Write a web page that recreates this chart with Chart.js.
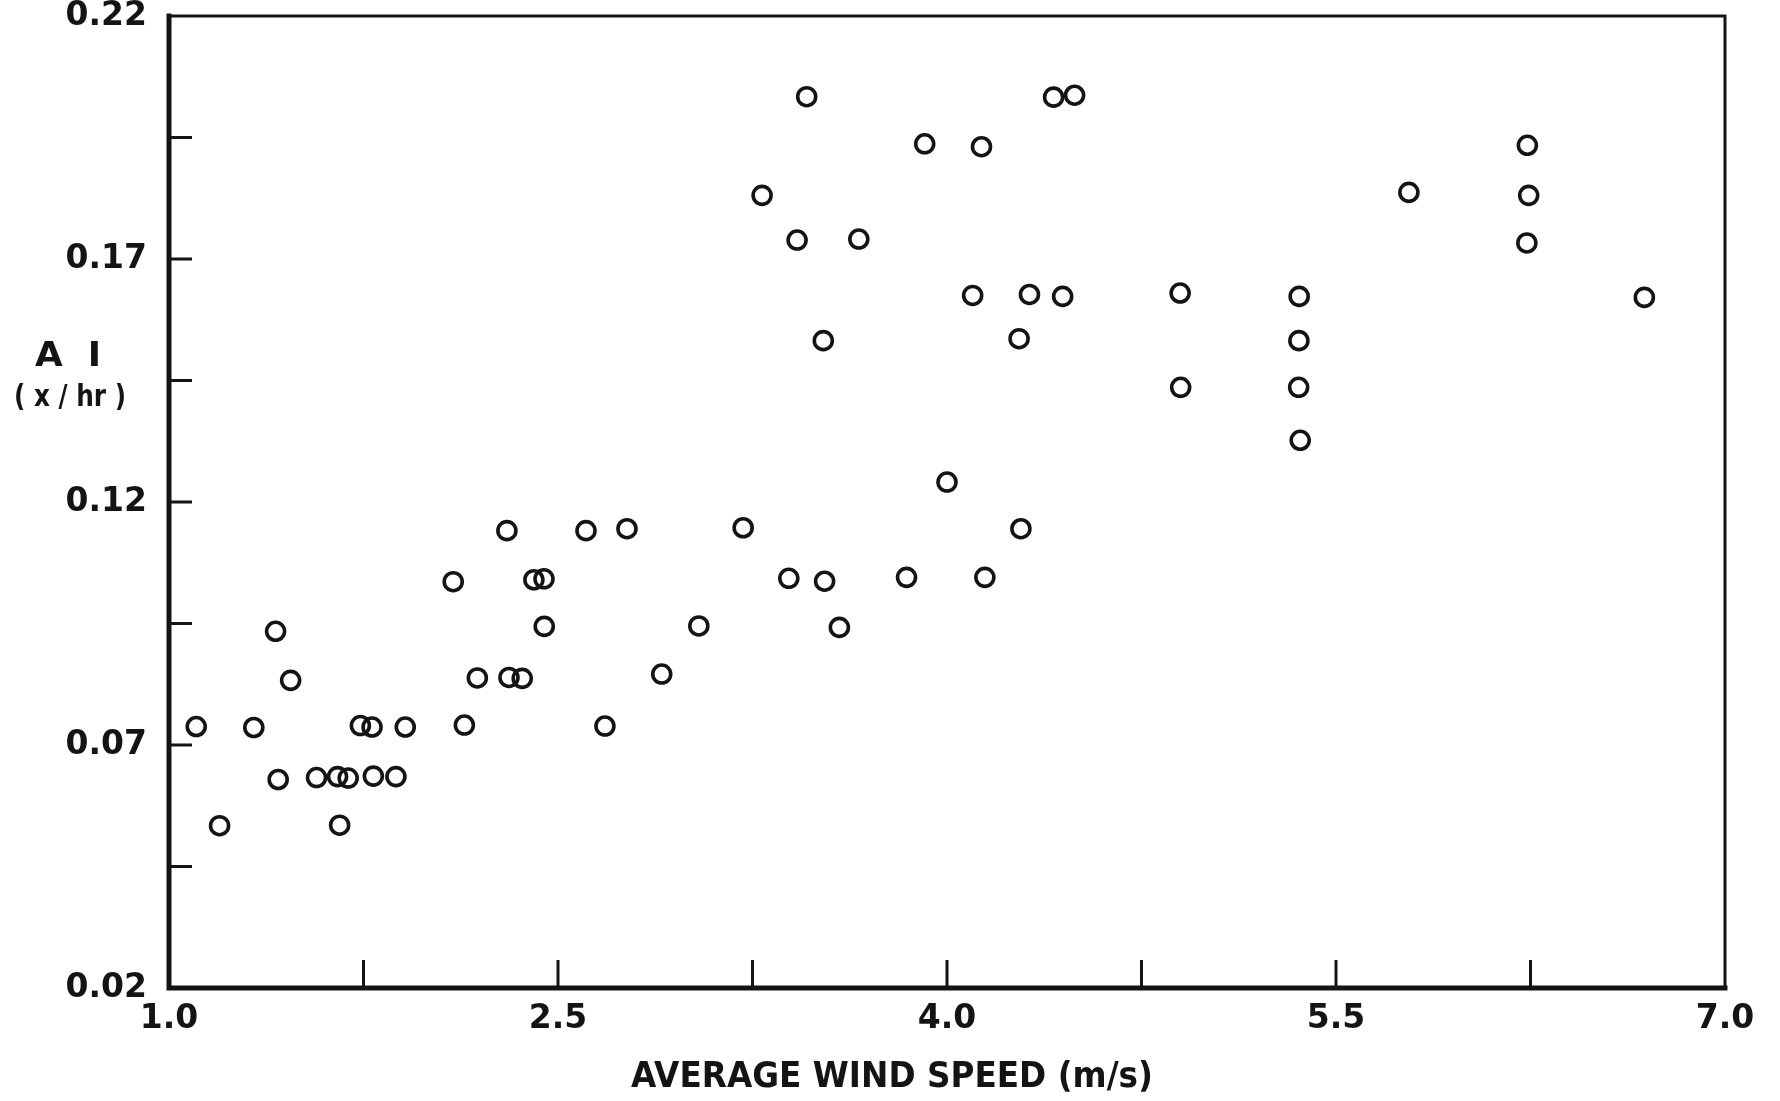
<!DOCTYPE html>
<html>
<head>
<meta charset="utf-8">
<title>AI vs average wind speed</title>
<script src="https://cdn.jsdelivr.net/npm/chart.js@4.4.1/dist/chart.umd.min.js"></script>
<style>
  html, body { margin: 0; padding: 0; background: #fff; }
  #wrap { width: 1780px; height: 1101px; }
</style>
</head>
<body>
<div id="wrap"><canvas id="chart" width="1780" height="1101"></canvas></div>
<script>
// Average wind speed (m/s)
const windSpeed = [1.105, 1.195, 1.327, 1.411, 1.469, 1.421, 1.569, 1.650, 1.691, 1.788,
    1.875, 1.658, 1.738, 1.783, 1.911, 2.139, 2.189, 2.311, 2.362, 2.096,
    2.407, 2.446, 2.447, 2.303, 2.608, 2.766, 2.900, 2.681, 3.043, 3.214,
    3.390, 3.528, 3.585, 4.000, 4.285, 3.844, 4.146, 3.459, 4.411, 4.492,
    3.914, 4.133, 3.287, 3.422, 3.660, 4.099, 4.318, 4.446, 4.899, 3.523,
    4.278, 4.901, 6.238, 5.781, 6.243, 6.236, 5.358, 6.689, 5.357, 5.356,
    5.362];

// AI (x/hr), same order as windSpeed
const airInfiltration = [0.0738, 0.0534, 0.0736, 0.0934, 0.0833, 0.0629, 0.0633, 0.0635, 0.0632, 0.0636,
    0.0635, 0.0535, 0.0740, 0.0737, 0.0737, 0.0741, 0.0838, 0.0839, 0.0837, 0.1036,
    0.1040, 0.1042, 0.0944, 0.1141, 0.1141, 0.1145, 0.0846, 0.0739, 0.0945, 0.1147,
    0.1043, 0.1037, 0.0942, 0.1241, 0.1145, 0.1045, 0.1045, 0.2034, 0.2033, 0.2037,
    0.1937, 0.1931, 0.1831, 0.1739, 0.1741, 0.1625, 0.1627, 0.1623, 0.1630, 0.1532,
    0.1536, 0.1436, 0.1934, 0.1837, 0.1831, 0.1733, 0.1623, 0.1621, 0.1532, 0.1436,
    0.1327];

// Tick positions and their labels ('' = unlabelled tick)
const xTickValues = [1.0, 1.75, 2.5, 3.25, 4.0, 4.75, 5.5, 6.25, 7.0];
const xTickLabels = ['1.0', '', '2.5', '', '4.0', '', '5.5', '', '7.0'];
const yTickValues = [0.02, 0.045, 0.07, 0.095, 0.12, 0.145, 0.17, 0.195, 0.22];
const yTickLabels = ['0.02', '', '0.07', '', '0.12', '', '0.17', '', '0.22'];

const INK = '#141414';
const FONT = '"DejaVu Sans", "Liberation Sans", sans-serif';

function labelFor(values, labels, value) {
    const i = values.findIndex(v => Math.abs(v - value) < 1e-9);
    return i >= 0 ? labels[i] : '';
}

// fit a string into a given width by squeezing it horizontally
function drawFitted(ctx, text, cx, cy, targetWidth) {
    const w = ctx.measureText(text).width;
    const sx = Math.min(1.4, targetWidth / w);
    ctx.save();
    ctx.translate(cx, cy);
    ctx.scale(sx, 1);
    ctx.fillText(text, 0, 0);
    ctx.restore();
}

// frame, inward tick marks and the hand lettered axis titles
const framePlugin = {
    id: 'frame',
    afterDraw(chart) {
        const { ctx, chartArea: a, scales } = chart;
        ctx.save();
        ctx.strokeStyle = INK;
        ctx.lineCap = 'square';

        ctx.lineWidth = 3;
        ctx.beginPath();
        ctx.moveTo(a.left, a.top);
        ctx.lineTo(a.right, a.top);
        ctx.lineTo(a.right, a.bottom);
        ctx.stroke();

        ctx.lineWidth = 5;
        ctx.beginPath();
        ctx.moveTo(a.left, a.top);
        ctx.lineTo(a.left, a.bottom);
        ctx.lineTo(a.right, a.bottom);
        ctx.stroke();

        ctx.lineWidth = 3;
        ctx.lineCap = 'butt';
        xTickValues.slice(1, -1).forEach(v => {
            const px = scales.x.getPixelForValue(v);
            ctx.beginPath();
            ctx.moveTo(px, a.bottom);
            ctx.lineTo(px, a.bottom - 28);
            ctx.stroke();
        });
        yTickValues.slice(1, -1).forEach(v => {
            const py = scales.y.getPixelForValue(v);
            ctx.beginPath();
            ctx.moveTo(a.left, py);
            ctx.lineTo(a.left + 23, py);
            ctx.stroke();
        });

        ctx.fillStyle = INK;
        ctx.textAlign = 'center';
        ctx.textBaseline = 'middle';
        ctx.font = 'bold 36px ' + FONT;
        drawFitted(ctx, 'AVERAGE WIND SPEED (m/s)', 892, 1078, 522);
        ctx.font = 'bold 34px ' + FONT;
        drawFitted(ctx, 'A  I', 68, 357, 66);
        ctx.font = 'bold 30px ' + FONT;
        drawFitted(ctx, '( x / hr )', 70, 398, 112);
        ctx.restore();
    }
};

new Chart(document.getElementById('chart'), {
    type: 'scatter',
    data: {
        datasets: [{
            label: 'AI',
            data: windSpeed.map((x, i) => ({ x: x, y: airInfiltration[i] })),
            pointStyle: 'circle',
            pointRadius: 9,
            pointHoverRadius: 9,
            pointBorderWidth: 3.6,
            borderColor: INK,
            backgroundColor: 'rgba(0,0,0,0)'
        }]
    },
    options: {
        responsive: false,
        animation: false,
        layout: { padding: { left: 0, right: 55, top: 16, bottom: 0 } },
        plugins: {
            legend: { display: false },
            tooltip: { enabled: false }
        },
        scales: {
            x: {
                type: 'linear',
                min: 1.0,
                max: 7.0,
                grid: { display: false },
                border: { display: false },
                afterBuildTicks: s => { s.ticks = xTickValues.map(v => ({ value: v })); },
                afterFit: s => { s.height = 113; s.paddingLeft = 0; s.paddingRight = 0; },
                ticks: {
                    autoSkip: false,
                    maxRotation: 0,
                    padding: 4,
                    color: INK,
                    font: { family: FONT, size: 33, weight: 'bold' },
                    callback: v => labelFor(xTickValues, xTickLabels, v)
                }
            },
            y: {
                type: 'linear',
                min: 0.02,
                max: 0.22,
                grid: { display: false },
                border: { display: false },
                afterBuildTicks: s => { s.ticks = yTickValues.map(v => ({ value: v })); },
                afterFit: s => { s.width = 169; s.paddingTop = 0; s.paddingBottom = 0; },
                ticks: {
                    autoSkip: false,
                    padding: 14,
                    color: INK,
                    font: { family: FONT, size: 33, weight: 'bold' },
                    callback: v => labelFor(yTickValues, yTickLabels, v)
                }
            }
        }
    },
    plugins: [framePlugin]
});
</script>
</body>
</html>
